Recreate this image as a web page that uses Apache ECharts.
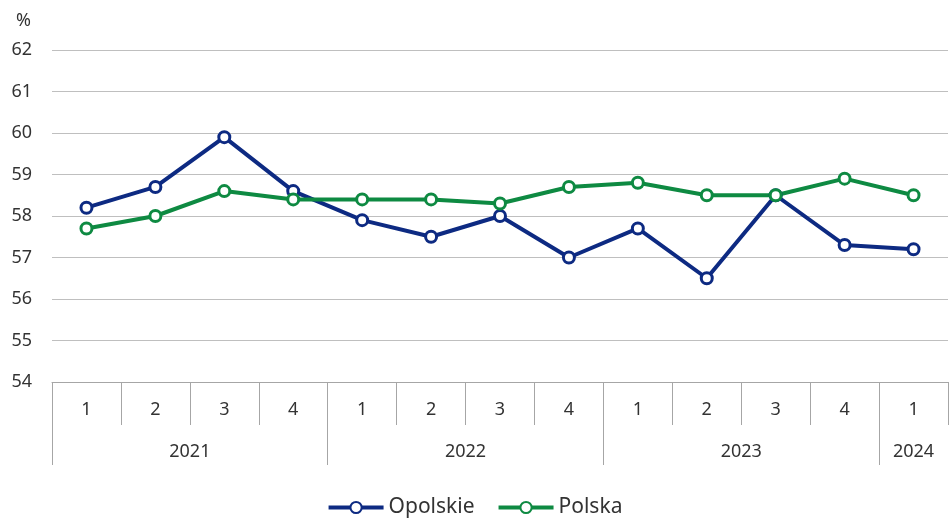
<!DOCTYPE html>
<html><head><meta charset="utf-8">
<script src="https://cdn.jsdelivr.net/npm/echarts@6/dist/echarts.min.js"></script>
<style>html,body{margin:0;padding:0;background:#fff}#c{width:949px;height:518px}</style>
</head><body><div id="c"></div>
<script>
const quarters = ['1','2','3','4','1','2','3','4','1','2','3','4','1'];
const yearLabels = ['2021','2022','2023','2024'];
const yearSpans = [4,4,4,1];
const opolskie = [58.2,58.7,59.9,58.6,57.9,57.5,58.0,57.0,57.7,56.5,58.5,57.3,57.2];
const polska = [57.7,58.0,58.6,58.4,58.4,58.4,58.3,58.7,58.8,58.5,58.5,58.9,58.5];
const yTicks = {min:54, max:62, interval:1};

// build half-step category axis for year labels
const n2 = quarters.length*2+1;
const yearCats = new Array(n2).fill('');
const yearTickIdx = [];
let start = 0;
yearSpans.forEach((s,i)=>{ yearCats[start*2 + s] = yearLabels[i]; yearTickIdx.push(start*2); start += s; });

const font = 'Noto Sans';
const txt = '#333333';
const axisGrey = '#a6a6a6';
const navy = '#0d2a82';
const green = '#0e8a42';

const chart = echarts.init(document.getElementById('c'));
chart.setOption({
  animation:false,
  textStyle:{fontFamily:font},
  grid:{left:52,right:1,top:50,bottom:136},
  legend:{bottom:-5,left:'center',itemWidth:55,itemHeight:14,itemGap:22,
    lineStyle:{width:4},
    textStyle:{fontSize:21,color:txt,fontFamily:font},
    data:['Opolskie','Polska']},
  xAxis:[
    {type:'category',data:quarters,boundaryGap:true,position:'bottom',
     axisLine:{lineStyle:{color:axisGrey,width:1}},
     axisTick:{show:true,interval:0,length:43,lineStyle:{color:axisGrey}},
     axisLabel:{color:txt,fontSize:18,margin:19,interval:0}},
    {type:'category',data:yearCats,boundaryGap:false,position:'bottom',
     axisLine:{show:false},
     axisTick:{show:true,length:83,interval:(i)=>yearTickIdx.includes(i),lineStyle:{color:axisGrey}},
     axisLabel:{color:txt,fontSize:18,margin:61,interval:(i,v)=>v!==''}}
  ],
  yAxis:{type:'value',min:yTicks.min,max:yTicks.max,interval:yTicks.interval,
    name:'%',nameLocation:'end',nameGap:20,nameTextStyle:{color:txt,fontSize:18,align:'right',padding:[0,21,0,0]},
    axisLine:{show:false},axisTick:{show:false},
    axisLabel:{color:txt,fontSize:18,margin:20},
    splitLine:{lineStyle:{color:'#bfbfbf',width:1}}},
  series:[
    {name:'Opolskie',type:'line',data:opolskie,xAxisIndex:0,
     symbol:'circle',symbolSize:11,
     lineStyle:{color:navy,width:4},
     itemStyle:{color:'#ffffff',borderColor:navy,borderWidth:3}},
    {name:'Polska',type:'line',data:polska,xAxisIndex:0,
     symbol:'circle',symbolSize:11,
     lineStyle:{color:green,width:4},
     itemStyle:{color:'#ffffff',borderColor:green,borderWidth:3}}
  ]
});
</script></body></html>
